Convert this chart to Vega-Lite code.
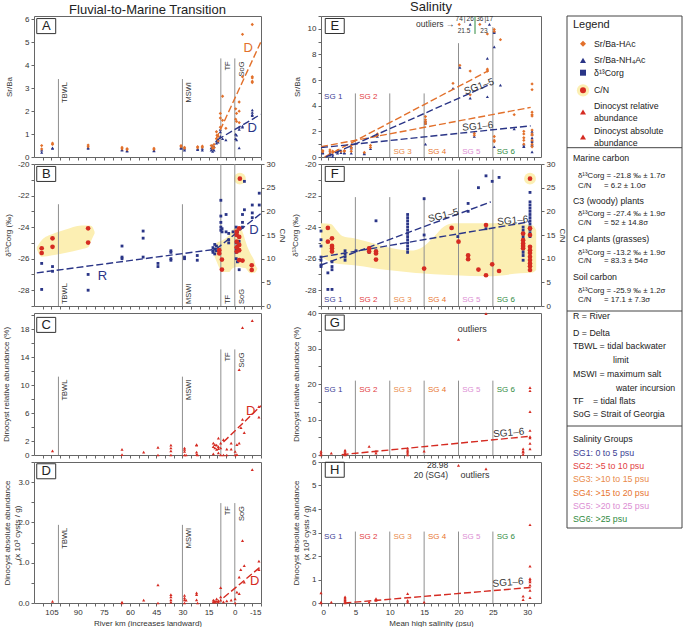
{
"$schema":"https://vega.github.io/schema/vega-lite/v6.json",
"background":"white",
"padding":{"left":1,"top":0,"right":0,"bottom":0},
"columns":3,
"spacing":{"row":7,"column":60},
"bounds":"flush",
"align":"each",
"config":{
 "font":"Liberation Sans, sans-serif",
 "view":{"stroke":"#666","strokeWidth":1},
 "axis":{"grid":false,"domain":false,"tickColor":"#666","tickSize":3,"labelFont":"Liberation Sans, sans-serif","labelFontSize":8,"labelColor":"#333","labelPadding":2,"titleFont":"Liberation Sans, sans-serif","titleFontSize":8,"titleFontWeight":"normal","titleColor":"#333","titlePadding":3,"labelOverlap":false},
 "title":{"font":"Liberation Sans, sans-serif","fontSize":13,"fontWeight":"normal","color":"#222","offset":-2},
 "text":{"font":"Liberation Sans, sans-serif","color":"#333"},
 "point":{"opacity":1}
},
"datasets":{
 "kmHAc":[{"x":110.6,"y":0.5},{"x":110.6,"y":0.35},{"x":104.4,"y":0.55},{"x":104.4,"y":0.6},{"x":84,"y":0.52},{"x":84,"y":0.45},{"x":64.6,"y":0.42},{"x":64.6,"y":0.36},{"x":61.7,"y":0.36},{"x":61.7,"y":0.32},{"x":46.3,"y":0.38},{"x":46.3,"y":0.33},{"x":30.8,"y":0.5},{"x":30.8,"y":0.45},{"x":28.8,"y":0.42},{"x":28.8,"y":0.38},{"x":21.3,"y":0.45},{"x":21.3,"y":0.4},{"x":18.6,"y":0.47},{"x":18.6,"y":0.42},{"x":13.5,"y":0.5},{"x":12.7,"y":0.45},{"x":12.7,"y":0.38},{"x":11.9,"y":0.55},{"x":11.9,"y":0.4},{"x":10.5,"y":1.1},{"x":10.5,"y":0.8},{"x":10.2,"y":0.95},{"x":9.5,"y":0.7},{"x":9.5,"y":0.9},{"x":8.3,"y":1.9},{"x":8.3,"y":1.7},{"x":8.3,"y":1.3},{"x":7,"y":2.65},{"x":7,"y":1.6},{"x":5.1,"y":1.25},{"x":-0.5,"y":2.1},{"x":-0.5,"y":1.65},{"x":-1,"y":1.9},{"x":-1,"y":1.55},{"x":-2.5,"y":2.4},{"x":-2.5,"y":2.0},{"x":-2.5,"y":1.5},{"x":-4.4,"y":5.35},{"x":-4.4,"y":3.5},{"x":-10,"y":5.78},{"x":-10,"y":3.5},{"x":-10,"y":3.45},{"x":-10,"y":3.3},{"x":-10,"y":3.25}],
 "kmNH4":[{"x":110.6,"y":0.3},{"x":110.6,"y":0.2},{"x":104.4,"y":0.4},{"x":104.4,"y":0.38},{"x":84,"y":0.42},{"x":84,"y":0.38},{"x":64.6,"y":0.33},{"x":64.6,"y":0.3},{"x":61.7,"y":0.28},{"x":61.7,"y":0.26},{"x":46.3,"y":0.3},{"x":46.3,"y":0.27},{"x":30.8,"y":0.42},{"x":30.8,"y":0.38},{"x":28.8,"y":0.35},{"x":28.8,"y":0.3},{"x":21.3,"y":0.35},{"x":21.3,"y":0.32},{"x":18.6,"y":0.38},{"x":18.6,"y":0.3},{"x":13.5,"y":0.4},{"x":13.5,"y":0.3},{"x":12.7,"y":0.5},{"x":12.7,"y":0.35},{"x":12.7,"y":0.25},{"x":11.9,"y":0.45},{"x":11.9,"y":0.3},{"x":10.5,"y":0.7},{"x":10.5,"y":0.6},{"x":9.5,"y":0.65},{"x":9.5,"y":0.75},{"x":8.3,"y":1.2},{"x":8.3,"y":1.1},{"x":8.3,"y":0.9},{"x":7,"y":0.8},{"x":5.1,"y":0.75},{"x":-0.5,"y":1.0},{"x":-0.5,"y":0.8},{"x":-1,"y":0.95},{"x":-1,"y":0.75},{"x":-2.5,"y":1.3},{"x":-2.5,"y":1.2},{"x":-2.5,"y":0.4},{"x":-4.4,"y":1.35},{"x":-4.4,"y":1.3},{"x":-10,"y":2.05},{"x":-10,"y":1.95},{"x":-10,"y":1.85},{"x":-10,"y":1.8}],
 "kmD13":[{"x":110.6,"y":-26.3},{"x":110.6,"y":-27.95},{"x":104.4,"y":-26.5},{"x":104.4,"y":-26.8},{"x":84,"y":-27.0},{"x":84,"y":-28.0},{"x":64.6,"y":-25.2},{"x":64.6,"y":-25.9},{"x":64.6,"y":-26.0},{"x":52.5,"y":-24.25},{"x":52.5,"y":-24.7},{"x":52.5,"y":-25.9},{"x":44,"y":-26.3},{"x":44,"y":-26.5},{"x":36.6,"y":-25.5},{"x":36.6,"y":-25.6},{"x":36.6,"y":-26.0},{"x":36.6,"y":-26.1},{"x":28.8,"y":-25.9},{"x":28.8,"y":-26.0},{"x":21.5,"y":-25.8},{"x":21.5,"y":-26.1},{"x":12.5,"y":-25.3},{"x":12.5,"y":-25.5},{"x":12.5,"y":-25.6},{"x":11.5,"y":-25.1},{"x":11.5,"y":-25.4},{"x":11.5,"y":-25.7},{"x":10.5,"y":-25.2},{"x":10.5,"y":-25.5},{"x":8,"y":-22.3},{"x":8,"y":-23.3},{"x":8,"y":-23.7},{"x":8,"y":-24.0},{"x":8,"y":-24.2},{"x":7.3,"y":-24.1},{"x":7.3,"y":-24.3},{"x":5,"y":-23.2},{"x":5,"y":-24.3},{"x":3.5,"y":-24.4},{"x":3.5,"y":-25.0},{"x":3.5,"y":-24.8},{"x":1,"y":-24.3},{"x":-0.8,"y":-24.0},{"x":-0.8,"y":-24.5},{"x":-0.8,"y":-25.0},{"x":-0.8,"y":-25.4},{"x":-0.8,"y":-25.6},{"x":-0.8,"y":-26.0},{"x":-1.5,"y":-24.3},{"x":-1.5,"y":-25.2},{"x":-1.5,"y":-26.2},{"x":-2.5,"y":-26.7},{"x":-2.5,"y":-24.9},{"x":-2.5,"y":-25.5},{"x":-4.4,"y":-23.2},{"x":-4.4,"y":-23.7},{"x":-4.4,"y":-24.0},{"x":-5.5,"y":-21.1},{"x":-5.5,"y":-22.9},{"x":-10,"y":-22.6},{"x":-10,"y":-23.1},{"x":-10,"y":-23.4},{"x":-14,"y":-21.85},{"x":-14,"y":-22.6}],
 "kmCN":[{"x":110.6,"y":12.2},{"x":110.6,"y":11.2},{"x":104.4,"y":14.3},{"x":104.4,"y":12.5},{"x":84,"y":16.4},{"x":84,"y":13.4},{"x":8.9,"y":11.8},{"x":8.9,"y":11.1},{"x":7.4,"y":9.8},{"x":7.4,"y":7.7},{"x":-1.1,"y":15.7},{"x":-1.1,"y":15.0},{"x":-1.1,"y":13.6},{"x":-1.1,"y":12.4},{"x":-1.1,"y":11.5},{"x":-2.5,"y":16.4},{"x":-2.5,"y":14.6},{"x":-2.5,"y":12.9},{"x":-2.5,"y":11.8},{"x":-2.5,"y":9.7},{"x":-2.9,"y":26.9},{"x":-4.4,"y":9.6},{"x":-9.7,"y":8.6},{"x":-9.7,"y":7.6}],
 "kmRel":[{"x":104.4,"y":0.6},{"x":64.6,"y":0.8},{"x":64.6,"y":0.05},{"x":52.2,"y":0.4},{"x":44,"y":1.1},{"x":44,"y":0},{"x":36.6,"y":1.4},{"x":36.6,"y":1.0},{"x":36.6,"y":0.6},{"x":36.6,"y":0},{"x":28.8,"y":1.0},{"x":28.8,"y":0.8},{"x":28.8,"y":0.5},{"x":28.8,"y":0},{"x":27.9,"y":0},{"x":21.9,"y":1.5},{"x":21.9,"y":1.4},{"x":21.9,"y":0.4},{"x":21.9,"y":0.05},{"x":21.3,"y":0},{"x":12.3,"y":1.7},{"x":12.3,"y":1.2},{"x":12.3,"y":0.15},{"x":11.4,"y":1.5},{"x":11.4,"y":1.0},{"x":10.4,"y":0.8},{"x":10.4,"y":1.4},{"x":9.4,"y":2.4},{"x":9.4,"y":1.2},{"x":9.4,"y":0.9},{"x":9.4,"y":0.3},{"x":8.1,"y":1.7},{"x":8.1,"y":1.0},{"x":8.1,"y":0},{"x":6.5,"y":2.2},{"x":6.5,"y":0},{"x":4.6,"y":0.85},{"x":4.6,"y":0},{"x":2.1,"y":1.7},{"x":2.1,"y":0.85},{"x":-0.2,"y":0.5},{"x":-0.2,"y":0},{"x":-1.2,"y":1.5},{"x":-1.2,"y":0.05},{"x":-2.5,"y":1.7},{"x":-2.5,"y":12.2},{"x":-3.5,"y":3.9},{"x":-4.4,"y":18.2},{"x":-4.4,"y":5.1},{"x":-5.4,"y":3.2},{"x":-10,"y":19.2},{"x":-13.8,"y":6.9},{"x":-13.8,"y":5.4}],
 "kmAbs":[{"x":104.4,"y":0.04},{"x":64.6,"y":0.02},{"x":64.6,"y":0},{"x":52.2,"y":0.07},{"x":44,"y":0.45},{"x":44,"y":0},{"x":36.6,"y":0.21},{"x":36.6,"y":0.15},{"x":36.6,"y":0.08},{"x":36.6,"y":0.02},{"x":28.8,"y":0.19},{"x":28.8,"y":0.13},{"x":28.8,"y":0.08},{"x":28.8,"y":0},{"x":27.9,"y":0.07},{"x":21.9,"y":0.25},{"x":21.9,"y":0.21},{"x":21.9,"y":0.08},{"x":21.3,"y":0},{"x":12.3,"y":0.07},{"x":12.3,"y":0.03},{"x":11.4,"y":0.05},{"x":11.4,"y":0.02},{"x":10.4,"y":0.1},{"x":10.4,"y":0.04},{"x":9.4,"y":0.06},{"x":9.4,"y":0.03},{"x":8.1,"y":0.38},{"x":8.1,"y":0.15},{"x":8.1,"y":0.07},{"x":6.5,"y":0.03},{"x":4.6,"y":0.05},{"x":2.1,"y":0.07},{"x":-0.2,"y":0.1},{"x":-0.2,"y":0},{"x":-1.2,"y":0.27},{"x":-2.5,"y":0.23},{"x":-2.5,"y":0.64},{"x":-3.4,"y":0.83},{"x":-4.4,"y":1.55},{"x":-5.4,"y":0.93},{"x":-5.4,"y":0.52},{"x":-10,"y":3.31},{"x":-13.8,"y":1.04},{"x":-13.8,"y":0.83}],
 "sHAc":[{"x":0.25,"y":0.5},{"x":0.25,"y":0.4},{"x":1.3,"y":0.55},{"x":1.3,"y":0.4},{"x":1.7,"y":0.45},{"x":1.7,"y":0.35},{"x":2.4,"y":0.5},{"x":2.9,"y":0.45},{"x":3.4,"y":0.5},{"x":3.4,"y":0.45},{"x":4.4,"y":0.9},{"x":4.4,"y":0.7},{"x":4.4,"y":0.45},{"x":6.3,"y":0.35},{"x":7.2,"y":0.9},{"x":7.2,"y":0.75},{"x":8.2,"y":1.8},{"x":8.2,"y":1.7},{"x":15.2,"y":3.15},{"x":15.2,"y":2.9},{"x":15.2,"y":2.75},{"x":15.2,"y":2.6},{"x":19.2,"y":5.75},{"x":20.2,"y":7.15},{"x":21.7,"y":6.7},{"x":21.7,"y":4.85},{"x":22.3,"y":1.85},{"x":22.3,"y":1.7},{"x":24.2,"y":9.6},{"x":24.2,"y":6.85},{"x":24.2,"y":6.7},{"x":25.2,"y":9.95},{"x":25.2,"y":9.8},{"x":25.2,"y":1.6},{"x":25.2,"y":1.3},{"x":25.2,"y":1.2},{"x":26.1,"y":9.15},{"x":28.1,"y":3.3},{"x":29.5,"y":2.0},{"x":29.5,"y":1.8},{"x":29.5,"y":1.5},{"x":29.5,"y":1.3},{"x":29.5,"y":1.0},{"x":30.7,"y":5.7},{"x":30.7,"y":5.25},{"x":30.7,"y":3.5},{"x":30.7,"y":3.3},{"x":30.7,"y":3.2},{"x":30.7,"y":2.1},{"x":30.7,"y":1.8},{"x":30.7,"y":1.7},{"x":30.7,"y":1.3},{"x":30.7,"y":1.0},{"x":30.7,"y":0.8},{"x":20.1,"y":10.34},{"x":23.1,"y":10.34}],
 "sNH4":[{"x":0.25,"y":0.35},{"x":0.25,"y":0.3},{"x":1.3,"y":0.3},{"x":1.3,"y":0.15},{"x":1.7,"y":0.2},{"x":1.7,"y":0.05},{"x":2.4,"y":0.4},{"x":2.4,"y":0.3},{"x":2.9,"y":0.35},{"x":3.4,"y":0.35},{"x":3.4,"y":0.3},{"x":4.4,"y":0.8},{"x":4.4,"y":0.7},{"x":4.4,"y":0.3},{"x":6.3,"y":0.3},{"x":6.3,"y":0.25},{"x":7.2,"y":0.65},{"x":8.2,"y":1.75},{"x":8.2,"y":1.6},{"x":15.2,"y":2.8},{"x":15.2,"y":2.65},{"x":15.2,"y":1.0},{"x":19.2,"y":5.35},{"x":20.2,"y":7.0},{"x":21.7,"y":4.6},{"x":22.3,"y":1.6},{"x":24.2,"y":7.7},{"x":24.2,"y":4.7},{"x":25.2,"y":9.8},{"x":25.2,"y":9.7},{"x":25.2,"y":8.6},{"x":25.2,"y":0.8},{"x":26.1,"y":5.6},{"x":28.1,"y":2.2},{"x":29.5,"y":1.0},{"x":29.5,"y":0.85},{"x":29.5,"y":0.8},{"x":30.7,"y":2.0},{"x":30.7,"y":1.8},{"x":30.7,"y":1.5},{"x":30.7,"y":1.3},{"x":30.7,"y":1.2},{"x":30.7,"y":1.0},{"x":30.7,"y":0.9},{"x":30.7,"y":0.4},{"x":21.7,"y":10.34},{"x":24.5,"y":10.34}],
 "sD13":[{"x":0,"y":-24.25},{"x":0,"y":-24.8},{"x":0,"y":-25.2},{"x":0,"y":-25.9},{"x":0,"y":-26.1},{"x":0,"y":-26.4},{"x":0,"y":-26.5},{"x":1,"y":-26.9},{"x":1,"y":-27.95},{"x":1.6,"y":-26.2},{"x":1.6,"y":-26.5},{"x":1.6,"y":-26.7},{"x":1.6,"y":-27.95},{"x":3.5,"y":-25.5},{"x":3.5,"y":-25.7},{"x":3.5,"y":-25.9},{"x":3.5,"y":-26.1},{"x":5.1,"y":-25.5},{"x":7,"y":-25.4},{"x":7,"y":-25.6},{"x":8,"y":-23.6},{"x":8,"y":-25.5},{"x":12.6,"y":-23.2},{"x":12.6,"y":-23.4},{"x":12.6,"y":-23.6},{"x":12.6,"y":-23.8},{"x":12.6,"y":-24.0},{"x":12.6,"y":-24.2},{"x":12.6,"y":-24.4},{"x":12.6,"y":-24.6},{"x":12.6,"y":-24.8},{"x":12.6,"y":-25.0},{"x":12.6,"y":-25.2},{"x":12.6,"y":-25.4},{"x":12.6,"y":-25.6},{"x":15,"y":-22.2},{"x":15,"y":-24.5},{"x":19.9,"y":-24.6},{"x":21.4,"y":-22.5},{"x":21.4,"y":-23.0},{"x":22.9,"y":-21.5},{"x":24,"y":-20.75},{"x":24,"y":-24.1},{"x":24.9,"y":-21.1},{"x":25.9,"y":-20.85},{"x":29.4,"y":-24.0},{"x":29.4,"y":-24.2},{"x":29.4,"y":-24.4},{"x":29.4,"y":-24.6},{"x":29.4,"y":-24.8},{"x":29.4,"y":-25.0},{"x":29.4,"y":-25.2},{"x":29.4,"y":-25.4},{"x":29.4,"y":-25.6},{"x":29.4,"y":-25.8},{"x":29.4,"y":-26.1},{"x":30.4,"y":-21.8},{"x":30.4,"y":-22.4},{"x":30.4,"y":-22.6},{"x":30.4,"y":-22.8},{"x":30.4,"y":-23.0},{"x":30.4,"y":-23.2},{"x":30.4,"y":-23.4},{"x":30.4,"y":-23.6},{"x":30.4,"y":-23.8},{"x":30.4,"y":-24.0},{"x":30.4,"y":-24.2},{"x":30.4,"y":-24.4},{"x":30.4,"y":-24.6}],
 "sCN":[{"x":1,"y":16.5},{"x":1,"y":13.6},{"x":1.6,"y":14.3},{"x":1.6,"y":12.7},{"x":1.6,"y":12.2},{"x":1.6,"y":11.5},{"x":7,"y":12.2},{"x":7,"y":11.5},{"x":8,"y":11.5},{"x":8,"y":11.1},{"x":8,"y":9.8},{"x":15,"y":7.9},{"x":19,"y":16.5},{"x":20,"y":13.6},{"x":21.4,"y":10.7},{"x":21.4,"y":9.9},{"x":22.9,"y":7.7},{"x":24,"y":17.1},{"x":24,"y":6.5},{"x":24.9,"y":8.8},{"x":25.9,"y":7.4},{"x":29.4,"y":15.3},{"x":29.4,"y":13.9},{"x":29.4,"y":13.2},{"x":29.4,"y":12.7},{"x":29.4,"y":12.2},{"x":30.4,"y":26.9},{"x":30.4,"y":16.4},{"x":30.4,"y":15.0},{"x":30.4,"y":12.5},{"x":30.4,"y":11.8},{"x":30.4,"y":11.2},{"x":30.4,"y":10.4},{"x":30.4,"y":9.7},{"x":30.4,"y":9.0},{"x":30.4,"y":8.4},{"x":30.4,"y":7.6}],
 "sRel":[{"x":0,"y":1.0},{"x":0,"y":0.5},{"x":0,"y":0},{"x":1.5,"y":0.5},{"x":3.5,"y":1.4},{"x":3.5,"y":1.0},{"x":3.5,"y":0.5},{"x":3.5,"y":0.2},{"x":3.5,"y":0},{"x":7,"y":2.4},{"x":8,"y":1.1},{"x":8,"y":0.5},{"x":12.6,"y":1.9},{"x":12.6,"y":1.4},{"x":12.6,"y":1.0},{"x":12.6,"y":0.5},{"x":12.6,"y":0},{"x":15,"y":1.1},{"x":20,"y":32.6},{"x":24,"y":39.8},{"x":29.4,"y":1.7},{"x":29.4,"y":1.1},{"x":29.4,"y":0.8},{"x":29.4,"y":0.2},{"x":30.4,"y":19.0},{"x":30.4,"y":18.1},{"x":30.4,"y":12.2},{"x":30.4,"y":6.9},{"x":30.4,"y":5.2},{"x":30.4,"y":4.8},{"x":30.4,"y":3.3},{"x":30.4,"y":1.7}],
 "sAbs":[{"x":0,"y":0.43},{"x":0,"y":0.04},{"x":0,"y":0},{"x":1.5,"y":0.04},{"x":3.5,"y":0.26},{"x":3.5,"y":0.21},{"x":3.5,"y":0.14},{"x":3.5,"y":0.11},{"x":3.5,"y":0.07},{"x":3.5,"y":0},{"x":7,"y":0.04},{"x":8,"y":0.19},{"x":8,"y":0.11},{"x":12.6,"y":0.4},{"x":12.6,"y":0.11},{"x":12.6,"y":0.04},{"x":15,"y":0.04},{"x":20,"y":5.86},{"x":24,"y":5.71},{"x":29.4,"y":0.29},{"x":29.4,"y":0.14},{"x":30.4,"y":3.33},{"x":30.4,"y":1.57},{"x":30.4,"y":1.04},{"x":30.4,"y":0.97},{"x":30.4,"y":0.9},{"x":30.4,"y":0.76},{"x":30.4,"y":0.54},{"x":30.4,"y":0.23}],
 "halo":[
  {"p":"B","g":"B1","x":113.4,"lo":12.0,"hi":12.4},{"p":"B","g":"B1","x":110.6,"lo":10.4,"hi":13.9},{"p":"B","g":"B1","x":104.4,"lo":10.7,"hi":15.2},{"p":"B","g":"B1","x":97.3,"lo":11.2,"hi":16.1},{"p":"B","g":"B1","x":87.8,"lo":12.0,"hi":17.0},{"p":"B","g":"B1","x":84,"lo":12.4,"hi":17.0},{"p":"B","g":"B1","x":82.1,"lo":13.9,"hi":16.9},{"p":"B","g":"B1","x":80.3,"lo":15.3,"hi":15.7},
  {"p":"B","g":"B2","x":11.7,"lo":10.5,"hi":11.5},{"p":"B","g":"B2","x":10.8,"lo":9.7,"hi":13.2},{"p":"B","g":"B2","x":7,"lo":7.2,"hi":13.9},{"p":"B","g":"B2","x":3.2,"lo":7.2,"hi":15.0},{"p":"B","g":"B2","x":1.3,"lo":8.0,"hi":16.1},{"p":"B","g":"B2","x":-2.5,"lo":8.3,"hi":16.8},{"p":"B","g":"B2","x":-4.4,"lo":8.1,"hi":15.7},{"p":"B","g":"B2","x":-6.3,"lo":8.0,"hi":13.5},{"p":"B","g":"B2","x":-7.2,"lo":7.5,"hi":12.5},{"p":"B","g":"B2","x":-9.1,"lo":6.9,"hi":11.0},{"p":"B","g":"B2","x":-11,"lo":7.0,"hi":9.7},{"p":"B","g":"B2","x":-12,"lo":7.2,"hi":8.5},{"p":"B","g":"B2","x":-12.9,"lo":7.8,"hi":8.0},
  {"p":"F","g":"F1","x":0,"lo":10.4,"hi":17.5},{"p":"F","g":"F1","x":1.45,"lo":9.3,"hi":17.3},{"p":"F","g":"F1","x":2.2,"lo":9.0,"hi":16.1},{"p":"F","g":"F1","x":3.1,"lo":8.8,"hi":14.8},{"p":"F","g":"F1","x":4.8,"lo":8.6,"hi":14.3},{"p":"F","g":"F1","x":7.7,"lo":8.0,"hi":13.2},{"p":"F","g":"F1","x":9.7,"lo":7.6,"hi":12.4},{"p":"F","g":"F1","x":13.1,"lo":7.1,"hi":11.7},{"p":"F","g":"F1","x":14.5,"lo":6.9,"hi":12.2},{"p":"F","g":"F1","x":16.4,"lo":6.7,"hi":14.6},{"p":"F","g":"F1","x":17.9,"lo":6.6,"hi":16.8},{"p":"F","g":"F1","x":19.4,"lo":6.5,"hi":17.5},{"p":"F","g":"F1","x":24.2,"lo":6.3,"hi":17.5},{"p":"F","g":"F1","x":29,"lo":6.9,"hi":17.3},{"p":"F","g":"F1","x":30.8,"lo":7.1,"hi":17.0},{"p":"F","g":"F1","x":31.3,"lo":7.6,"hi":16.0}],
 "haloDot":[{"p":"B","x":-2.9,"y":26.9},{"p":"F","x":30.4,"y":26.9}],
 "rules":[
  {"p":"A","x":101,"y":3.4,"y2":0},{"p":"A","x":30,"y":3.4,"y2":0},{"p":"A","x":8,"y":4.3,"y2":0},{"p":"A","x":0,"y":4.3,"y2":0},
  {"p":"B","x":101,"y":-22.55,"y2":-29},{"p":"B","x":30,"y":-22.55,"y2":-29},{"p":"B","x":8,"y":-20,"y2":-29},{"p":"B","x":0,"y":-20,"y2":-29},
  {"p":"C","x":101,"y":11.2,"y2":0},{"p":"C","x":30,"y":11.2,"y2":0},{"p":"C","x":8,"y":15.1,"y2":0},{"p":"C","x":0,"y":15.1,"y2":0},
  {"p":"D","x":101,"y":1.94,"y2":0},{"p":"D","x":30,"y":1.94,"y2":0},{"p":"D","x":8,"y":2.48,"y2":0},{"p":"D","x":0,"y":2.48,"y2":0},
  {"p":"E","x":5,"y":4.96,"y2":0},{"p":"E","x":10,"y":4.96,"y2":0},{"p":"E","x":15,"y":4.96,"y2":0},{"p":"E","x":20,"y":8.88,"y2":0},{"p":"E","x":25,"y":10.13,"y2":0},
  {"p":"F","x":5,"y":-22.1,"y2":-29},{"p":"F","x":10,"y":-22.1,"y2":-29},{"p":"F","x":15,"y":-22.1,"y2":-29},{"p":"F","x":20,"y":-20.35,"y2":-29},{"p":"F","x":25,"y":-20.35,"y2":-29},
  {"p":"G","x":5,"y":20.95,"y2":0},{"p":"G","x":10,"y":20.95,"y2":0},{"p":"G","x":15,"y":20.95,"y2":0},{"p":"G","x":20,"y":20.95,"y2":0},{"p":"G","x":25,"y":20.95,"y2":0},
  {"p":"H","x":5,"y":3.04,"y2":0},{"p":"H","x":10,"y":3.04,"y2":0},{"p":"H","x":15,"y":3.04,"y2":0},{"p":"H","x":20,"y":3.04,"y2":0},{"p":"H","x":25,"y":3.04,"y2":0}],
 "rulelab":[
  {"p":"A","x":101,"y":3.4,"t":"TBWL"},{"p":"A","x":30,"y":3.4,"t":"MSWI"},{"p":"A","x":8,"y":4.3,"t":"TF"},{"p":"A","x":0,"y":4.3,"t":"SoG"},
  {"p":"B","x":101,"y":-29,"t":"TBWL"},{"p":"B","x":30,"y":-29,"t":"MSWI"},{"p":"B","x":8,"y":-29,"t":"TF"},{"p":"B","x":0,"y":-29,"t":"SoG"},
  {"p":"C","x":101,"y":11.2,"t":"TBWL"},{"p":"C","x":30,"y":11.2,"t":"MSWI"},{"p":"C","x":8,"y":15.1,"t":"TF"},{"p":"C","x":0,"y":15.1,"t":"SoG"},
  {"p":"D","x":101,"y":1.94,"t":"TBWL"},{"p":"D","x":30,"y":1.94,"t":"MSWI"},{"p":"D","x":8,"y":2.48,"t":"TF"},{"p":"D","x":0,"y":2.48,"t":"SoG"}],
 "sglab":[
  {"p":"E","x":0.45,"y":4.65,"t":"SG 1","c":"SG1"},{"p":"E","x":5.55,"y":4.65,"t":"SG 2","c":"SG2"},{"p":"E","x":10.55,"y":0.42,"t":"SG 3","c":"SG3"},{"p":"E","x":15.55,"y":0.42,"t":"SG 4","c":"SG4"},{"p":"E","x":20.55,"y":0.42,"t":"SG 5","c":"SG5"},{"p":"E","x":25.55,"y":0.42,"t":"SG 6","c":"SG6"},
  {"p":"F","x":0.45,"y":-28.6,"t":"SG 1","c":"SG1"},{"p":"F","x":5.55,"y":-28.6,"t":"SG 2","c":"SG2"},{"p":"F","x":10.55,"y":-28.6,"t":"SG 3","c":"SG3"},{"p":"F","x":15.55,"y":-28.6,"t":"SG 4","c":"SG4"},{"p":"F","x":20.55,"y":-28.6,"t":"SG 5","c":"SG5"},{"p":"F","x":25.55,"y":-28.6,"t":"SG 6","c":"SG6"},
  {"p":"G","x":0.45,"y":18.3,"t":"SG 1","c":"SG1"},{"p":"G","x":5.55,"y":18.3,"t":"SG 2","c":"SG2"},{"p":"G","x":10.55,"y":18.3,"t":"SG 3","c":"SG3"},{"p":"G","x":15.55,"y":18.3,"t":"SG 4","c":"SG4"},{"p":"G","x":20.55,"y":18.3,"t":"SG 5","c":"SG5"},{"p":"G","x":25.55,"y":18.3,"t":"SG 6","c":"SG6"},
  {"p":"H","x":0.45,"y":2.8,"t":"SG 1","c":"SG1"},{"p":"H","x":5.55,"y":2.8,"t":"SG 2","c":"SG2"},{"p":"H","x":10.55,"y":2.8,"t":"SG 3","c":"SG3"},{"p":"H","x":15.55,"y":2.8,"t":"SG 4","c":"SG4"},{"p":"H","x":20.55,"y":2.8,"t":"SG 5","c":"SG5"},{"p":"H","x":25.55,"y":2.8,"t":"SG 6","c":"SG6"}],
 "letters":[{"p":"A","x":108,"y":5.71,"t":"A"},{"p":"B","x":108,"y":-20.63,"t":"B"},{"p":"C","x":108,"y":18.6,"t":"C"},{"p":"D","x":108,"y":3.27,"t":"D"},{"p":"E","x":2.0,"y":10.22,"t":"E"},{"p":"F","x":2.0,"y":-20.63,"t":"F"},{"p":"G","x":2.0,"y":37.3,"t":"G"},{"p":"H","x":2.0,"y":5.67,"t":"H"}],
 "reg":[
  {"p":"A","id":"o1","c":"o","x":10.8,"y":0.77},{"p":"A","id":"o1","c":"o","x":-14.8,"y":5.0},
  {"p":"A","id":"n1","c":"n","x":10,"y":0.75},{"p":"A","id":"n1","c":"n","x":-14.8,"y":1.86},
  {"p":"B","id":"n1","c":"n","x":113.4,"y":-26.9},{"p":"B","id":"n1","c":"n","x":10.8,"y":-25.4},
  {"p":"B","id":"n2","c":"n","x":10.8,"y":-25.4},{"p":"B","id":"n2","c":"n","x":-14.8,"y":-23.15},
  {"p":"C","id":"r1","c":"r","x":6.5,"y":1.86},{"p":"C","id":"r1","c":"r","x":-15,"y":7.05},
  {"p":"D","id":"r1","c":"r","x":6.5,"y":0.13},{"p":"D","id":"r1","c":"r","x":-15,"y":0.91},
  {"p":"E","id":"o1","c":"o","x":0.5,"y":0},{"p":"E","id":"o1","c":"o","x":24.4,"y":6.74},
  {"p":"E","id":"n1","c":"n","x":0.7,"y":0},{"p":"E","id":"n1","c":"n","x":24.7,"y":5.69},
  {"p":"E","id":"o2","c":"o","x":0,"y":0.8},{"p":"E","id":"o2","c":"o","x":30.5,"y":3.87},
  {"p":"E","id":"n2","c":"n","x":0,"y":0.73},{"p":"E","id":"n2","c":"n","x":30.5,"y":2.43},
  {"p":"F","id":"n1","c":"n","x":0,"y":-26.4},{"p":"F","id":"n1","c":"n","x":24.7,"y":-22.4},
  {"p":"F","id":"n2","c":"n","x":0,"y":-25.9},{"p":"F","id":"n2","c":"n","x":30.5,"y":-23.65},
  {"p":"G","id":"r1","c":"r","x":3,"y":0.1},{"p":"G","id":"r1","c":"r","x":30.5,"y":5.3},
  {"p":"H","id":"r1","c":"r","x":3.4,"y":0},{"p":"H","id":"r1","c":"r","x":30.5,"y":0.66}],
 "notes":[
  {"p":"A","x":-7.6,"y":4.76,"t":"D","c":"o","k":"big"},{"p":"A","x":-10,"y":1.28,"t":"D","c":"n","k":"big"},
  {"p":"B","x":75.8,"y":-27.1,"t":"R","c":"n","k":"big"},{"p":"B","x":-11,"y":-24.2,"t":"D","c":"n","k":"big"},
  {"p":"C","x":-9.1,"y":6.34,"t":"D","c":"r","k":"big"},
  {"p":"D","x":-11.4,"y":0.55,"t":"D","c":"r","k":"big"},
  {"p":"E","x":23.0,"y":5.5,"t":"SG1–5","c":"k","k":"a340"},{"p":"E","x":22.8,"y":2.38,"t":"SG1–6","c":"k","k":"a355"},
  {"p":"E","x":19.4,"y":10.34,"t":"outliers →","c":"k","k":"midR"},
  {"p":"E","x":20.1,"y":10.73,"t":"74","c":"k","k":"sm"},{"p":"E","x":20.9,"y":10.73,"t":"|","c":"k","k":"sm"},{"p":"E","x":21.7,"y":10.73,"t":"26","c":"k","k":"sm"},{"p":"E","x":23.1,"y":10.73,"t":"36","c":"k","k":"sm"},{"p":"E","x":23.9,"y":10.73,"t":"|","c":"k","k":"sm"},{"p":"E","x":24.5,"y":10.73,"t":"17","c":"k","k":"sm"},{"p":"E","x":20.8,"y":9.82,"t":"21.5","c":"k","k":"sm"},{"p":"E","x":23.7,"y":9.82,"t":"23","c":"k","k":"sm"},
  {"p":"F","x":17.8,"y":-23.27,"t":"SG1–5","c":"k","k":"a346"},{"p":"F","x":27.9,"y":-23.59,"t":"SG1–6","c":"k","k":"a355"},
  {"p":"G","x":22,"y":35.4,"t":"outliers","c":"k","k":"mid"},{"p":"G","x":27.3,"y":6.2,"t":"SG1–6","c":"k","k":"a355"},
  {"p":"H","x":18.5,"y":5.86,"t":"28.98","c":"k","k":"midR"},{"p":"H","x":18.5,"y":5.43,"t":"20 (SG4)","c":"k","k":"midR"},{"p":"H","x":20.3,"y":5.43,"t":"outliers","c":"k","k":"midL"},{"p":"H","x":27.2,"y":0.87,"t":"SG1–6","c":"k","k":"a355"}],
 "eGreen":[{"x":22.4,"y":10.95,"y2":9.6}],
 "legBox":[{"x":0,"x2":115,"y":0,"y2":512}],
 "legSep":[{"x":0,"x2":115,"y":131.7},{"x":0,"x2":115,"y":295},{"x":0,"x2":115,"y":410}],
 "legHalo":[{"x":16,"y":74.3}],
 "legSym":[{"x":16,"y":27.7,"k":"HAc"},{"x":16,"y":44.3,"k":"NH4Ac"},{"x":16,"y":56.7,"k":"d13C"},{"x":16,"y":74.3,"k":"CN"},{"x":16,"y":96,"k":"rel"},{"x":16,"y":121,"k":"abs"}],
 "legText":[
  {"x":6,"y":9,"t":"Legend","k":"title"},
  {"x":27,"y":27.7,"t":"Sr/Ba-HAc","k":"item"},{"x":27,"y":44.3,"t":"Sr/Ba-NH₄Ac","k":"item"},{"x":27,"y":56.7,"t":"δ¹³Corg","k":"item"},{"x":27,"y":74.3,"t":"C/N","k":"item"},
  {"x":27,"y":90,"t":"Dinocyst relative","k":"item"},{"x":27,"y":101.7,"t":"abundance","k":"item"},{"x":27,"y":115,"t":"Dinocyst absolute","k":"item"},{"x":27,"y":126.7,"t":"abundance","k":"item"},
  {"x":6,"y":141.7,"t":"Marine carbon","k":"head"},{"x":11,"y":160,"t":"δ¹³Corg = -21.8 ‰ ± 1.7σ","k":"val"},{"x":11,"y":170,"t":"C/N","k":"val"},{"x":37,"y":170,"t":"= 6.2 ± 1.0σ","k":"val"},
  {"x":6,"y":185,"t":"C3 (woody) plants","k":"head"},{"x":11,"y":197.7,"t":"δ¹³Corg = -27.4 ‰ ± 1.9σ","k":"val"},{"x":11,"y":206.7,"t":"C/N","k":"val"},{"x":37,"y":206.7,"t":"= 52 ± 14.8σ","k":"val"},
  {"x":6,"y":223.3,"t":"C4 plants (grasses)","k":"head"},{"x":11,"y":236.7,"t":"δ¹³Corg = -13.2 ‰ ± 1.9σ","k":"val"},{"x":11,"y":245,"t":"C/N","k":"val"},{"x":37,"y":245,"t":"= 83.3 ± 54σ","k":"val"},
  {"x":6,"y":261,"t":"Soil carbon","k":"head"},{"x":11,"y":275,"t":"δ¹³Corg = -25.9 ‰ ± 1.2σ","k":"val"},{"x":11,"y":284.3,"t":"C/N","k":"val"},{"x":37,"y":284.3,"t":"= 17.1 ± 7.3σ","k":"val"},
  {"x":6,"y":300,"t":"R = River","k":"head"},{"x":6,"y":316.7,"t":"D = Delta","k":"head"},{"x":6,"y":330,"t":"TBWL = tidal backwater","k":"head"},{"x":46,"y":344.3,"t":"limit","k":"head"},
  {"x":6,"y":358.3,"t":"MSWI = maximum salt","k":"head"},{"x":49,"y":371.7,"t":"water incursion","k":"head"},
  {"x":6,"y":385,"t":"TF","k":"head"},{"x":26,"y":385,"t":"= tidal flats","k":"head"},{"x":6,"y":398.3,"t":"SoG","k":"head"},{"x":26,"y":398.3,"t":"= Strait of Georgia","k":"head"},
  {"x":6,"y":423.3,"t":"Salinity Groups","k":"head"},
  {"x":6,"y":436.7,"t":"SG1: 0 to 5 psu","k":"SG1"},{"x":6,"y":450,"t":"SG2: >5 to 10 psu","k":"SG2"},{"x":6,"y":463.3,"t":"SG3: >10 to 15 psu","k":"SG3"},{"x":6,"y":476.7,"t":"SG4: >15 to 20 psu","k":"SG4"},{"x":6,"y":490,"t":"SG5: >20 to 25 psu","k":"SG5"},{"x":6,"y":503.3,"t":"SG6: >25 psu","k":"SG6"}]
},
"concat":[
 {"width":227,"height":141,"title":{"text":"Fluvial-to-Marine Transition"},
  "encoding":{"x":{"field":"x","type":"quantitative","scale":{"domain":[115,-15],"nice":false,"zero":false},"axis":{"values":[110,105,100,95,90,85,80,75,70,65,60,55,50,45,40,35,30,25,20,15,10,5,0,-5,-10,-15],"labels":false,"title":null}},
   "y":{"field":"y","type":"quantitative","scale":{"domain":[0,6.15],"nice":false,"zero":false},"axis":{"values":[0,1,2,3,4,5,6],"title":"Sr/Ba","titleX":-25,"titleBaseline":"middle"}}},
  "layer":[
   {"data":{"name":"rules"},"transform":[{"filter":"datum.p=='A'"}],"mark":{"type":"rule","color":"#8f8f8f","strokeWidth":1},"encoding":{"y2":{"field":"y2"}}},
   {"data":{"name":"rulelab"},"transform":[{"filter":"datum.p=='A'"}],"mark":{"type":"text","angle":270,"align":"right","baseline":"top","dx":-3,"dy":3,"fontSize":7.5},"encoding":{"text":{"field":"t"}}},
   {"data":{"name":"kmNH4"},"mark":{"type":"point","shape":"triangle-up","filled":true,"color":"#2a3587","size":10,"opacity":1}},
   {"data":{"name":"kmHAc"},"mark":{"type":"point","shape":"diamond","filled":true,"color":"#e2702b","size":11,"opacity":1}},
   {"data":{"name":"reg"},"transform":[{"filter":"datum.p=='A' && datum.c=='o'"}],"mark":{"type":"line","color":"#e2702b","strokeDash":[7,3],"strokeWidth":1.4},"encoding":{"detail":{"field":"id","type":"nominal"}}},
   {"data":{"name":"reg"},"transform":[{"filter":"datum.p=='A' && datum.c=='n'"}],"mark":{"type":"line","color":"#2a3587","strokeDash":[7,3],"strokeWidth":1.4},"encoding":{"detail":{"field":"id","type":"nominal"}}},
   {"data":{"name":"notes"},"transform":[{"filter":"datum.p=='A' && datum.k=='big'"}],"mark":{"type":"text","fontSize":13,"baseline":"middle"},"encoding":{"text":{"field":"t"},"color":{"field":"c","type":"nominal","scale":{"domain":["o","n","r","k","SG1","SG2","SG3","SG4","SG5","SG6"],"range":["#e2702b","#2a3587","#d52b22","#333333","#3c3e94","#e2403f","#e98a4a","#e8752f","#dc8ed3","#2f8a3e"]},"legend":null}}},
   {"data":{"name":"letters"},"transform":[{"filter":"datum.p=='A'"}],"mark":{"type":"point","shape":"M-1.2,-0.95L1.2,-0.95L1.2,0.95L-1.2,0.95Z","filled":false,"size":250,"color":"#333","strokeWidth":1,"opacity":1}},
   {"data":{"name":"letters"},"transform":[{"filter":"datum.p=='A'"}],"mark":{"type":"text","fontSize":13,"color":"#222","baseline":"middle"},"encoding":{"text":{"field":"t"}}}
  ]},
 {"width":220,"height":141,"title":{"text":"Salinity"},
  "encoding":{"x":{"field":"x","type":"quantitative","scale":{"domain":[0,32],"nice":false,"zero":false},"axis":{"values":[0,1,2,3,4,5,6,7,8,9,10,11,12,13,14,15,16,17,18,19,20,21,22,23,24,25,26,27,28,29,30,31],"labels":false,"title":null}},
   "y":{"field":"y","type":"quantitative","scale":{"domain":[0,11],"nice":false,"zero":false},"axis":{"values":[0,1,2,3,4,5,6,7,8,9,10,11],"labelExpr":"datum.value % 2 == 0 ? datum.label : ''","title":"Sr/Ba","titleX":-24,"titleBaseline":"middle"}}},
  "layer":[
   {"data":{"name":"rules"},"transform":[{"filter":"datum.p=='E'"}],"mark":{"type":"rule","color":"#8f8f8f","strokeWidth":1},"encoding":{"y2":{"field":"y2"}}},
   {"data":{"name":"sglab"},"transform":[{"filter":"datum.p=='E'"}],"mark":{"type":"text","align":"left","baseline":"middle","fontSize":8},"encoding":{"text":{"field":"t"},"color":{"field":"c","type":"nominal","scale":{"domain":["o","n","r","k","SG1","SG2","SG3","SG4","SG5","SG6"],"range":["#e2702b","#2a3587","#d52b22","#333333","#3c3e94","#e2403f","#e98a4a","#e8752f","#dc8ed3","#2f8a3e"]},"legend":null}}},
   {"data":{"name":"eGreen"},"mark":{"type":"rule","color":"#2f8a3e","strokeWidth":1},"encoding":{"y2":{"field":"y2"}}},
   {"data":{"name":"sNH4"},"mark":{"type":"point","shape":"triangle-up","filled":true,"color":"#2a3587","size":10,"opacity":1}},
   {"data":{"name":"sHAc"},"mark":{"type":"point","shape":"diamond","filled":true,"color":"#e2702b","size":11,"opacity":1}},
   {"data":{"name":"reg"},"transform":[{"filter":"datum.p=='E' && datum.c=='o'"}],"mark":{"type":"line","color":"#e2702b","strokeDash":[7,3],"strokeWidth":1.4},"encoding":{"detail":{"field":"id","type":"nominal"}}},
   {"data":{"name":"reg"},"transform":[{"filter":"datum.p=='E' && datum.c=='n'"}],"mark":{"type":"line","color":"#2a3587","strokeDash":[7,3],"strokeWidth":1.4},"encoding":{"detail":{"field":"id","type":"nominal"}}},
   {"data":{"name":"notes"},"transform":[{"filter":"datum.p=='E' && datum.k=='a340'"}],"mark":{"type":"text","fontSize":10,"angle":340,"baseline":"middle"},"encoding":{"text":{"field":"t"}}},
   {"data":{"name":"notes"},"transform":[{"filter":"datum.p=='E' && datum.k=='a355'"}],"mark":{"type":"text","fontSize":10,"angle":355,"baseline":"middle"},"encoding":{"text":{"field":"t"}}},
   {"data":{"name":"notes"},"transform":[{"filter":"datum.p=='E' && datum.k=='midR'"}],"mark":{"type":"text","fontSize":8.5,"align":"right","baseline":"middle"},"encoding":{"text":{"field":"t"}}},
   {"data":{"name":"notes"},"transform":[{"filter":"datum.p=='E' && datum.k=='sm'"}],"mark":{"type":"text","fontSize":6.5,"baseline":"middle"},"encoding":{"text":{"field":"t"}}},
   {"data":{"name":"letters"},"transform":[{"filter":"datum.p=='E'"}],"mark":{"type":"point","shape":"M-1.2,-0.95L1.2,-0.95L1.2,0.95L-1.2,0.95Z","filled":false,"size":250,"color":"#333","strokeWidth":1,"opacity":1}},
   {"data":{"name":"letters"},"transform":[{"filter":"datum.p=='E'"}],"mark":{"type":"text","fontSize":13,"color":"#222","baseline":"middle"},"encoding":{"text":{"field":"t"}}}
  ]},
 {"width":81,"height":141,"view":{"stroke":null},
  "encoding":{"x":{"field":"x","type":"quantitative","scale":{"domain":[34,115],"nice":false,"zero":false},"axis":null},
   "y":{"field":"y","type":"quantitative","scale":{"domain":[0,141],"reverse":true,"nice":false,"zero":false},"axis":null}},
  "layer":[
   {"data":{"name":"legBox"},"mark":{"type":"rect","fill":"white","stroke":"#444","strokeWidth":1},"encoding":{"x2":{"field":"x2"},"y2":{"field":"y2"}}},
   {"data":{"name":"legSep"},"mark":{"type":"rule","color":"#444","strokeWidth":1},"encoding":{"x2":{"field":"x2"}}},
   {"data":{"name":"legHalo"},"mark":{"type":"point","filled":true,"color":"#fcefb3","size":150,"opacity":1}},
   {"data":{"name":"legSym"},"mark":{"type":"point","filled":true,"size":36,"opacity":1},"encoding":{"shape":{"field":"k","type":"nominal","scale":{"domain":["HAc","NH4Ac","d13C","CN","rel","abs"],"range":["diamond","triangle-up","square","circle","triangle-up","triangle-up"]},"legend":null},"color":{"field":"k","type":"nominal","scale":{"domain":["HAc","NH4Ac","d13C","CN","rel","abs"],"range":["#e2702b","#2a3587","#2a3587","#d52b22","#d52b22","#d52b22"]},"legend":null}}},
   {"data":{"name":"legText"},"transform":[{"filter":"datum.k=='title'"}],"mark":{"type":"text","align":"left","baseline":"middle","fontSize":11,"color":"#222"},"encoding":{"text":{"field":"t"}}},
   {"data":{"name":"legText"},"transform":[{"filter":"datum.k!='title' && datum.k!='val'"}],"mark":{"type":"text","align":"left","baseline":"middle","fontSize":8.8},"encoding":{"text":{"field":"t"},"color":{"field":"k","type":"nominal","scale":{"domain":["item","head","SG1","SG2","SG3","SG4","SG5","SG6"],"range":["#222222","#222222","#3c3e94","#e2403f","#e98a4a","#e8752f","#dc8ed3","#2f8a3e"]},"legend":null}}},
   {"data":{"name":"legText"},"transform":[{"filter":"datum.k=='val'"}],"mark":{"type":"text","align":"left","baseline":"middle","fontSize":7.8,"color":"#222"},"encoding":{"text":{"field":"t"}}}
  ],
  "resolve":{"scale":{"color":"independent","shape":"independent"}}},
 {"width":227,"height":142,
  "layer":[
   {"encoding":{"x":{"field":"x","type":"quantitative","scale":{"domain":[115,-15],"nice":false,"zero":false},"axis":{"values":[110,105,100,95,90,85,80,75,70,65,60,55,50,45,40,35,30,25,20,15,10,5,0,-5,-10,-15],"labels":false,"title":null}},
     "y":{"field":"lo","type":"quantitative","scale":{"domain":[0,30],"nice":false,"zero":false},"axis":null}},
    "layer":[
     {"data":{"name":"halo"},"transform":[{"filter":"datum.p=='B'"}],"mark":{"type":"area","color":"#fcefb3","interpolate":"monotone","opacity":1},"encoding":{"y2":{"field":"hi"},"detail":{"field":"g","type":"nominal"}}},
     {"data":{"name":"haloDot"},"transform":[{"filter":"datum.p=='B'"}],"mark":{"type":"point","filled":true,"color":"#fcefb3","size":140,"opacity":1},"encoding":{"y":{"field":"y","type":"quantitative","scale":{"domain":[0,30],"nice":false,"zero":false},"axis":null}}}
    ]},
   {"encoding":{"x":{"field":"x","type":"quantitative","scale":{"domain":[115,-15],"nice":false,"zero":false},"axis":{"values":[110,105,100,95,90,85,80,75,70,65,60,55,50,45,40,35,30,25,20,15,10,5,0,-5,-10,-15],"labels":false,"title":null}},
     "y":{"field":"y","type":"quantitative","scale":{"domain":[-29,-20],"nice":false,"zero":false},"axis":{"values":[-29,-28,-27,-26,-25,-24,-23,-22,-21,-20],"labelExpr":"datum.value % 2 == 0 ? replace(datum.label, '−', '-') : ''","title":"δ¹³Corg (‰)","titleX":-26,"titleBaseline":"middle"}}},
    "layer":[
     {"data":{"name":"rules"},"transform":[{"filter":"datum.p=='B'"}],"mark":{"type":"rule","color":"#8f8f8f","strokeWidth":1},"encoding":{"y2":{"field":"y2"}}},
     {"data":{"name":"rulelab"},"transform":[{"filter":"datum.p=='B'"}],"mark":{"type":"text","angle":270,"align":"left","baseline":"top","dx":2,"dy":3,"fontSize":7.5},"encoding":{"text":{"field":"t"}}},
     {"data":{"name":"kmD13"},"mark":{"type":"point","shape":"square","filled":true,"color":"#2a3587","size":8,"opacity":1}},
     {"data":{"name":"reg"},"transform":[{"filter":"datum.p=='B'"}],"mark":{"type":"line","color":"#2a3587","strokeDash":[7,3],"strokeWidth":1.4},"encoding":{"detail":{"field":"id","type":"nominal"}}},
     {"data":{"name":"notes"},"transform":[{"filter":"datum.p=='B' && datum.k=='big'"}],"mark":{"type":"text","fontSize":13,"baseline":"middle","color":"#2a3587"},"encoding":{"text":{"field":"t"}}},
     {"data":{"name":"letters"},"transform":[{"filter":"datum.p=='B'"}],"mark":{"type":"point","shape":"M-1.2,-0.95L1.2,-0.95L1.2,0.95L-1.2,0.95Z","filled":false,"size":250,"color":"#333","strokeWidth":1,"opacity":1}},
     {"data":{"name":"letters"},"transform":[{"filter":"datum.p=='B'"}],"mark":{"type":"text","fontSize":13,"color":"#222","baseline":"middle"},"encoding":{"text":{"field":"t"}}}
    ]},
   {"data":{"name":"kmCN"},"mark":{"type":"point","shape":"circle","filled":true,"color":"#d52b22","size":22,"opacity":1},
    "encoding":{"x":{"field":"x","type":"quantitative","scale":{"domain":[115,-15],"nice":false,"zero":false},"axis":{"values":[110,105,100,95,90,85,80,75,70,65,60,55,50,45,40,35,30,25,20,15,10,5,0,-5,-10,-15],"labels":false,"title":null}},
     "y":{"field":"y","type":"quantitative","scale":{"domain":[0,30],"nice":false,"zero":false},"axis":{"orient":"right","values":[0,5,10,15,20,25,30],"title":"C/N"}}}}
  ],
  "resolve":{"scale":{"y":"independent"},"axis":{"y":"independent"}}},
 {"width":220,"height":142,
  "layer":[
   {"encoding":{"x":{"field":"x","type":"quantitative","scale":{"domain":[0,32],"nice":false,"zero":false},"axis":{"values":[0,1,2,3,4,5,6,7,8,9,10,11,12,13,14,15,16,17,18,19,20,21,22,23,24,25,26,27,28,29,30,31],"labels":false,"title":null}},
     "y":{"field":"lo","type":"quantitative","scale":{"domain":[0,30],"nice":false,"zero":false},"axis":null}},
    "layer":[
     {"data":{"name":"halo"},"transform":[{"filter":"datum.p=='F'"}],"mark":{"type":"area","color":"#fcefb3","interpolate":"monotone","opacity":1},"encoding":{"y2":{"field":"hi"},"detail":{"field":"g","type":"nominal"}}},
     {"data":{"name":"haloDot"},"transform":[{"filter":"datum.p=='F'"}],"mark":{"type":"point","filled":true,"color":"#fcefb3","size":140,"opacity":1},"encoding":{"y":{"field":"y","type":"quantitative","scale":{"domain":[0,30],"nice":false,"zero":false},"axis":null}}}
    ]},
   {"encoding":{"x":{"field":"x","type":"quantitative","scale":{"domain":[0,32],"nice":false,"zero":false},"axis":{"values":[0,1,2,3,4,5,6,7,8,9,10,11,12,13,14,15,16,17,18,19,20,21,22,23,24,25,26,27,28,29,30,31],"labels":false,"title":null}},
     "y":{"field":"y","type":"quantitative","scale":{"domain":[-29,-20],"nice":false,"zero":false},"axis":{"values":[-29,-28,-27,-26,-25,-24,-23,-22,-21,-20],"labelExpr":"datum.value % 2 == 0 ? replace(datum.label, '−', '-') : ''","title":"δ¹³Corg (‰)","titleX":-26,"titleBaseline":"middle"}}},
    "layer":[
     {"data":{"name":"rules"},"transform":[{"filter":"datum.p=='F'"}],"mark":{"type":"rule","color":"#8f8f8f","strokeWidth":1},"encoding":{"y2":{"field":"y2"}}},
     {"data":{"name":"sglab"},"transform":[{"filter":"datum.p=='F'"}],"mark":{"type":"text","align":"left","baseline":"middle","fontSize":8},"encoding":{"text":{"field":"t"},"color":{"field":"c","type":"nominal","scale":{"domain":["o","n","r","k","SG1","SG2","SG3","SG4","SG5","SG6"],"range":["#e2702b","#2a3587","#d52b22","#333333","#3c3e94","#e2403f","#e98a4a","#e8752f","#dc8ed3","#2f8a3e"]},"legend":null}}},
     {"data":{"name":"sD13"},"mark":{"type":"point","shape":"square","filled":true,"color":"#2a3587","size":8,"opacity":1}},
     {"data":{"name":"reg"},"transform":[{"filter":"datum.p=='F'"}],"mark":{"type":"line","color":"#2a3587","strokeDash":[7,3],"strokeWidth":1.4},"encoding":{"detail":{"field":"id","type":"nominal"}}},
     {"data":{"name":"notes"},"transform":[{"filter":"datum.p=='F' && datum.k=='a346'"}],"mark":{"type":"text","fontSize":10,"angle":346,"baseline":"middle"},"encoding":{"text":{"field":"t"}}},
     {"data":{"name":"notes"},"transform":[{"filter":"datum.p=='F' && datum.k=='a355'"}],"mark":{"type":"text","fontSize":10,"angle":355,"baseline":"middle"},"encoding":{"text":{"field":"t"}}},
     {"data":{"name":"letters"},"transform":[{"filter":"datum.p=='F'"}],"mark":{"type":"point","shape":"M-1.2,-0.95L1.2,-0.95L1.2,0.95L-1.2,0.95Z","filled":false,"size":250,"color":"#333","strokeWidth":1,"opacity":1}},
     {"data":{"name":"letters"},"transform":[{"filter":"datum.p=='F'"}],"mark":{"type":"text","fontSize":13,"color":"#222","baseline":"middle"},"encoding":{"text":{"field":"t"}}}
    ]},
   {"data":{"name":"sCN"},"mark":{"type":"point","shape":"circle","filled":true,"color":"#d52b22","size":22,"opacity":1},
    "encoding":{"x":{"field":"x","type":"quantitative","scale":{"domain":[0,32],"nice":false,"zero":false},"axis":{"values":[0,1,2,3,4,5,6,7,8,9,10,11,12,13,14,15,16,17,18,19,20,21,22,23,24,25,26,27,28,29,30,31],"labels":false,"title":null}},
     "y":{"field":"y","type":"quantitative","scale":{"domain":[0,30],"nice":false,"zero":false},"axis":{"orient":"right","values":[0,5,10,15,20,25,30],"title":"C/N"}}}}
  ],
  "resolve":{"scale":{"y":"independent"},"axis":{"y":"independent"}}},
 {"width":1,"height":1,"view":{"stroke":null},"data":{"values":[]},"mark":"point"},
 {"width":227,"height":142,
  "encoding":{"x":{"field":"x","type":"quantitative","scale":{"domain":[115,-15],"nice":false,"zero":false},"axis":{"values":[110,105,100,95,90,85,80,75,70,65,60,55,50,45,40,35,30,25,20,15,10,5,0,-5,-10,-15],"labels":false,"title":null}},
   "y":{"field":"y","type":"quantitative","scale":{"domain":[0,20.3],"nice":false,"zero":false},"axis":{"values":[0,2,4,6,8,10,12,14,16,18,20],"labelExpr":"(datum.value == 0 || datum.value % 4 == 2) ? datum.label : ''","title":"Dinocyst relative abundance (%)","titleX":-28,"titleBaseline":"middle"}}},
  "layer":[
   {"data":{"name":"rules"},"transform":[{"filter":"datum.p=='C'"}],"mark":{"type":"rule","color":"#8f8f8f","strokeWidth":1},"encoding":{"y2":{"field":"y2"}}},
   {"data":{"name":"rulelab"},"transform":[{"filter":"datum.p=='C'"}],"mark":{"type":"text","angle":270,"align":"right","baseline":"top","dx":-3,"dy":3,"fontSize":7.5},"encoding":{"text":{"field":"t"}}},
   {"data":{"name":"kmRel"},"mark":{"type":"point","shape":"triangle-up","filled":true,"color":"#d52b22","size":10,"opacity":1}},
   {"data":{"name":"reg"},"transform":[{"filter":"datum.p=='C'"}],"mark":{"type":"line","color":"#d52b22","strokeDash":[7,3],"strokeWidth":1.4},"encoding":{"detail":{"field":"id","type":"nominal"}}},
   {"data":{"name":"notes"},"transform":[{"filter":"datum.p=='C' && datum.k=='big'"}],"mark":{"type":"text","fontSize":13,"baseline":"middle","color":"#d52b22"},"encoding":{"text":{"field":"t"}}},
   {"data":{"name":"letters"},"transform":[{"filter":"datum.p=='C'"}],"mark":{"type":"point","shape":"M-1.2,-0.95L1.2,-0.95L1.2,0.95L-1.2,0.95Z","filled":false,"size":250,"color":"#333","strokeWidth":1,"opacity":1}},
   {"data":{"name":"letters"},"transform":[{"filter":"datum.p=='C'"}],"mark":{"type":"text","fontSize":13,"color":"#222","baseline":"middle"},"encoding":{"text":{"field":"t"}}}
  ]},
 {"width":220,"height":142,
  "encoding":{"x":{"field":"x","type":"quantitative","scale":{"domain":[0,32],"nice":false,"zero":false},"axis":{"values":[0,1,2,3,4,5,6,7,8,9,10,11,12,13,14,15,16,17,18,19,20,21,22,23,24,25,26,27,28,29,30,31],"labels":false,"title":null}},
   "y":{"field":"y","type":"quantitative","scale":{"domain":[0,40],"nice":false,"zero":false},"axis":{"values":[0,5,10,15,20,25,30,35,40],"labelExpr":"datum.value % 10 == 0 ? datum.label : ''","title":"Dinocyst relative abundance (%)","titleX":-25,"titleBaseline":"middle"}}},
  "layer":[
   {"data":{"name":"rules"},"transform":[{"filter":"datum.p=='G'"}],"mark":{"type":"rule","color":"#8f8f8f","strokeWidth":1},"encoding":{"y2":{"field":"y2"}}},
   {"data":{"name":"sglab"},"transform":[{"filter":"datum.p=='G'"}],"mark":{"type":"text","align":"left","baseline":"middle","fontSize":8},"encoding":{"text":{"field":"t"},"color":{"field":"c","type":"nominal","scale":{"domain":["o","n","r","k","SG1","SG2","SG3","SG4","SG5","SG6"],"range":["#e2702b","#2a3587","#d52b22","#333333","#3c3e94","#e2403f","#e98a4a","#e8752f","#dc8ed3","#2f8a3e"]},"legend":null}}},
   {"data":{"name":"sRel"},"mark":{"type":"point","shape":"triangle-up","filled":true,"color":"#d52b22","size":10,"opacity":1}},
   {"data":{"name":"reg"},"transform":[{"filter":"datum.p=='G'"}],"mark":{"type":"line","color":"#d52b22","strokeDash":[7,3],"strokeWidth":1.4},"encoding":{"detail":{"field":"id","type":"nominal"}}},
   {"data":{"name":"notes"},"transform":[{"filter":"datum.p=='G' && datum.k=='mid'"}],"mark":{"type":"text","fontSize":9,"baseline":"middle"},"encoding":{"text":{"field":"t"}}},
   {"data":{"name":"notes"},"transform":[{"filter":"datum.p=='G' && datum.k=='a355'"}],"mark":{"type":"text","fontSize":10,"angle":355,"baseline":"middle"},"encoding":{"text":{"field":"t"}}},
   {"data":{"name":"letters"},"transform":[{"filter":"datum.p=='G'"}],"mark":{"type":"point","shape":"M-1.2,-0.95L1.2,-0.95L1.2,0.95L-1.2,0.95Z","filled":false,"size":250,"color":"#333","strokeWidth":1,"opacity":1}},
   {"data":{"name":"letters"},"transform":[{"filter":"datum.p=='G'"}],"mark":{"type":"text","fontSize":13,"color":"#222","baseline":"middle"},"encoding":{"text":{"field":"t"}}}
  ]},
 {"width":1,"height":1,"view":{"stroke":null},"data":{"values":[]},"mark":"point"},
 {"width":227,"height":141,
  "encoding":{"x":{"field":"x","type":"quantitative","scale":{"domain":[115,-15],"nice":false,"zero":false},"axis":{"values":[110,105,100,95,90,85,80,75,70,65,60,55,50,45,40,35,30,25,20,15,10,5,0,-5,-10,-15],"labelExpr":"datum.value % 15 == 0 ? replace(datum.label, '−', '-') : ''","title":"River km (increases landward)"}},
   "y":{"field":"y","type":"quantitative","scale":{"domain":[0,3.5],"nice":false,"zero":false},"axis":{"values":[0,0.5,1,1.5,2,2.5,3,3.5],"labelExpr":"datum.value % 1 == 0 ? datum.label : ''","title":["Dinocyst absolute abundance","(x 10³ cysts / g)"],"titleX":-27,"titleBaseline":"middle"}}},
  "layer":[
   {"data":{"name":"rules"},"transform":[{"filter":"datum.p=='D'"}],"mark":{"type":"rule","color":"#8f8f8f","strokeWidth":1},"encoding":{"y2":{"field":"y2"}}},
   {"data":{"name":"rulelab"},"transform":[{"filter":"datum.p=='D'"}],"mark":{"type":"text","angle":270,"align":"right","baseline":"top","dx":-3,"dy":3,"fontSize":7.5},"encoding":{"text":{"field":"t"}}},
   {"data":{"name":"kmAbs"},"mark":{"type":"point","shape":"triangle-up","filled":true,"color":"#d52b22","size":10,"opacity":1}},
   {"data":{"name":"reg"},"transform":[{"filter":"datum.p=='D'"}],"mark":{"type":"line","color":"#d52b22","strokeDash":[7,3],"strokeWidth":1.4},"encoding":{"detail":{"field":"id","type":"nominal"}}},
   {"data":{"name":"notes"},"transform":[{"filter":"datum.p=='D' && datum.k=='big'"}],"mark":{"type":"text","fontSize":13,"baseline":"middle","color":"#d52b22"},"encoding":{"text":{"field":"t"}}},
   {"data":{"name":"letters"},"transform":[{"filter":"datum.p=='D'"}],"mark":{"type":"point","shape":"M-1.2,-0.95L1.2,-0.95L1.2,0.95L-1.2,0.95Z","filled":false,"size":250,"color":"#333","strokeWidth":1,"opacity":1}},
   {"data":{"name":"letters"},"transform":[{"filter":"datum.p=='D'"}],"mark":{"type":"text","fontSize":13,"color":"#222","baseline":"middle"},"encoding":{"text":{"field":"t"}}}
  ]},
 {"width":220,"height":141,
  "encoding":{"x":{"field":"x","type":"quantitative","scale":{"domain":[0,32],"nice":false,"zero":false},"axis":{"values":[0,1,2,3,4,5,6,7,8,9,10,11,12,13,14,15,16,17,18,19,20,21,22,23,24,25,26,27,28,29,30,31],"labelExpr":"datum.value % 5 == 0 ? datum.label : ''","title":"Mean high salinity (psu)"}},
   "y":{"field":"y","type":"quantitative","scale":{"domain":[0,6],"nice":false,"zero":false},"axis":{"values":[0,1,2,3,4,5,6],"title":["Dinocyst absolute abundance","(x 10³ cysts / g)"],"titleX":-25,"titleBaseline":"middle"}}},
  "layer":[
   {"data":{"name":"rules"},"transform":[{"filter":"datum.p=='H'"}],"mark":{"type":"rule","color":"#8f8f8f","strokeWidth":1},"encoding":{"y2":{"field":"y2"}}},
   {"data":{"name":"sglab"},"transform":[{"filter":"datum.p=='H'"}],"mark":{"type":"text","align":"left","baseline":"middle","fontSize":8},"encoding":{"text":{"field":"t"},"color":{"field":"c","type":"nominal","scale":{"domain":["o","n","r","k","SG1","SG2","SG3","SG4","SG5","SG6"],"range":["#e2702b","#2a3587","#d52b22","#333333","#3c3e94","#e2403f","#e98a4a","#e8752f","#dc8ed3","#2f8a3e"]},"legend":null}}},
   {"data":{"name":"sAbs"},"mark":{"type":"point","shape":"triangle-up","filled":true,"color":"#d52b22","size":10,"opacity":1}},
   {"data":{"name":"reg"},"transform":[{"filter":"datum.p=='H'"}],"mark":{"type":"line","color":"#d52b22","strokeDash":[7,3],"strokeWidth":1.4},"encoding":{"detail":{"field":"id","type":"nominal"}}},
   {"data":{"name":"notes"},"transform":[{"filter":"datum.p=='H' && datum.k=='midR'"}],"mark":{"type":"text","fontSize":8.5,"align":"right","baseline":"middle"},"encoding":{"text":{"field":"t"}}},
   {"data":{"name":"notes"},"transform":[{"filter":"datum.p=='H' && datum.k=='midL'"}],"mark":{"type":"text","fontSize":9,"align":"left","baseline":"middle"},"encoding":{"text":{"field":"t"}}},
   {"data":{"name":"notes"},"transform":[{"filter":"datum.p=='H' && datum.k=='a355'"}],"mark":{"type":"text","fontSize":10,"angle":355,"baseline":"middle"},"encoding":{"text":{"field":"t"}}},
   {"data":{"name":"letters"},"transform":[{"filter":"datum.p=='H'"}],"mark":{"type":"point","shape":"M-1.2,-0.95L1.2,-0.95L1.2,0.95L-1.2,0.95Z","filled":false,"size":250,"color":"#333","strokeWidth":1,"opacity":1}},
   {"data":{"name":"letters"},"transform":[{"filter":"datum.p=='H'"}],"mark":{"type":"text","fontSize":13,"color":"#222","baseline":"middle"},"encoding":{"text":{"field":"t"}}}
  ]},
 {"width":1,"height":1,"view":{"stroke":null},"data":{"values":[]},"mark":"point"}
]
}
